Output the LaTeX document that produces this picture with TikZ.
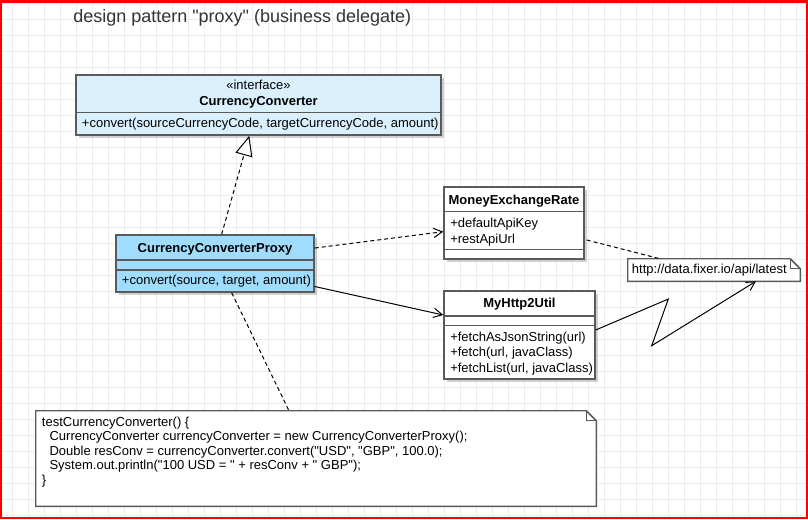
\documentclass[tikz,border=0pt]{standalone}
\usepackage{fontspec}
\setmainfont{Liberation Sans}[Ligatures=TeXOff]
\usetikzlibrary{arrows.meta,shadows}
\definecolor{ccfill}{RGB}{218,240,252}
\definecolor{pxfill}{RGB}{160,220,253}
\definecolor{boxline}{HTML}{5A5A5A}
\definecolor{gridc}{HTML}{EDEDED}
\definecolor{titlec}{HTML}{333333}
\begin{document}
\begin{tikzpicture}[x=0.75pt,y=-0.75pt,
  gridline/.style={draw=gridc, line width=0.75pt},
  box/.style={draw=boxline, line width=1.1pt, inner sep=0pt,
    drop shadow={shadow xshift=2.25pt, shadow yshift=-2.25pt, opacity=0.18, fill=black}},
  notebox/.style={draw=none, inner sep=0pt},
  noteline/.style={draw=boxline, line width=1.1pt, fill=white},
  divline/.style={draw=boxline, line width=0.9pt},
  txt/.style={font=\fontsize{9.75}{12}\selectfont, inner sep=0pt, anchor=base west},
  ctxt/.style={font=\fontsize{9.75}{12}\selectfont, inner sep=0pt, anchor=base},
  btxt/.style={font=\fontsize{9.75}{12}\selectfont\bfseries, inner sep=0pt, anchor=base},
  conn/.style={draw=black, line width=0.75pt},
  dashconn/.style={conn, dash pattern=on 3pt off 2.25pt},
  openarrow/.style={-{Straight Barb[length=6.5pt,width=7pt]}},
  realize/.style={-{Triangle[length=15pt,width=13pt,fill=white]}}
]
\useasboundingbox (0,0) rectangle (808,519);
% background grid
\fill[white] (0,0) rectangle (808,519);
\foreach \i in {0,...,49} \draw[gridline] (12.5+16*\i,0) -- (12.5+16*\i,519);
\foreach \j in {0,...,32} \draw[gridline] (0,3.5+16*\j) -- (808,3.5+16*\j);

% title
\node[txt, font=\fontsize{13.5}{16}\selectfont, text=titlec] (title) at (73,22) {design pattern "proxy" (business delegate)};

% boxes
\node[box, fill=ccfill, minimum width=273.75pt, minimum height=45pt] (cc) at (258.5,105) {};
\node[box, fill=pxfill, minimum width=148.5pt, minimum height=42.75pt] (proxy) at (215,263.5) {};
\node[box, fill=white, minimum width=105pt, minimum height=54pt] (mer) at (514,223) {};
\node[box, fill=white, minimum width=113.25pt, minimum height=66pt] (http) at (519.5,335) {};
\node[notebox, minimum width=129pt, minimum height=16.5pt] (url) at (714,270) {};
\node[notebox, minimum width=420pt, minimum height=71.25pt] (code) at (316,458.5) {};

% note outlines
\draw[noteline] (url.north west) -- ([xshift=-7.5pt]url.north east) -- ([yshift=-7.5pt]url.north east) -- (url.south east) -- (url.south west) -- cycle;
\draw[divline, line width=1.1pt] ([xshift=-7.5pt]url.north east) |- ([yshift=-7.5pt]url.north east);
\draw[noteline] (code.north west) -- ([xshift=-7.5pt]code.north east) -- ([yshift=-7.5pt]code.north east) -- (code.south east) -- (code.south west) -- cycle;
\draw[divline, line width=1.1pt] ([xshift=-7.5pt]code.north east) |- ([yshift=-7.5pt]code.north east);

% dividers
\draw[divline] (76,112.3) -- (441,112.3);
\draw[divline] (116,260) -- (314,260);
\draw[divline] (116,270) -- (314,270);
\draw[divline] (444,211.7) -- (584,211.7);
\draw[divline] (444,249.7) -- (584,249.7);
\draw[divline] (444,316) -- (595,316);
\draw[divline] (444,325.3) -- (595,325.3);

% texts
\node[ctxt] (ccst) at (258.5,89) {«interface»};
\node[btxt] (ccname) at (258.5,105) {CurrencyConverter};
\node[txt] (ccm) at (81.7,127.5) {+convert(sourceCurrencyCode, targetCurrencyCode, amount)};
\node[btxt] (pxname) at (215,252) {CurrencyConverterProxy};
\node[txt] (pxm) at (121.7,284.5) {+convert(source, target, amount)};
\node[btxt] (mername) at (514,204) {MoneyExchangeRate};
\node[txt] (mera) at (450,227.6) {+defaultApiKey};
\node[txt] (merb) at (450,243) {+restApiUrl};
\node[btxt] (httpname) at (519.5,307.6) {MyHttp2Util};
\node[txt] (httpa) at (450,341) {+fetchAsJsonString(url)};
\node[txt] (httpb) at (450,356.5) {+fetch(url, javaClass)};
\node[txt] (httpc) at (450,372) {+fetchList(url, javaClass)};
\node[txt] (urltxt) at (631.7,273) {http://data.fixer.io/api/latest};
\node[txt] (code1) at (41.7,426) {testCurrencyConverter() \{};
\node[txt] (code2) at (49.3,440.5) {CurrencyConverter currencyConverter = new CurrencyConverterProxy();};
\node[txt] (code3) at (49.3,455) {Double resConv = currencyConverter.convert("USD", "GBP", 100.0);};
\node[txt] (code4) at (49.3,469.5) {System.out.println("100 USD = " + resConv + " GBP");};
\node[txt] (code5) at (41.7,484) {\}};

% connectors
\coordinate (z1) at (668.3,299);
\coordinate (z2) at (651.7,345.7);
\draw[dashconn, realize] ([xshift=5pt]proxy.north) -- ([xshift=-6.9pt]cc.south);
\draw[dashconn, openarrow] ([yshift=11.6pt]proxy.east) -- ([yshift=-6.5pt]mer.west);
\draw[conn, openarrow] ([yshift=-17.25pt]proxy.east) -- ([yshift=15pt]http.west);
\draw[dashconn] ([xshift=1.5pt,yshift=-12.75pt]mer.east) -- ([xshift=-40.5pt]url.north);
\draw[conn, openarrow] ([yshift=3.75pt]http.east) -- (z1) -- (z2) -- ([xshift=31.5pt]url.south);
\draw[dashconn] ([xshift=12.5pt]proxy.south) -- ([xshift=-20.25pt]code.north);

% red frame
\draw[red, line width=1.9pt] (1.2,1.5) rectangle (806.8,517.8);
\end{tikzpicture}
\end{document}
